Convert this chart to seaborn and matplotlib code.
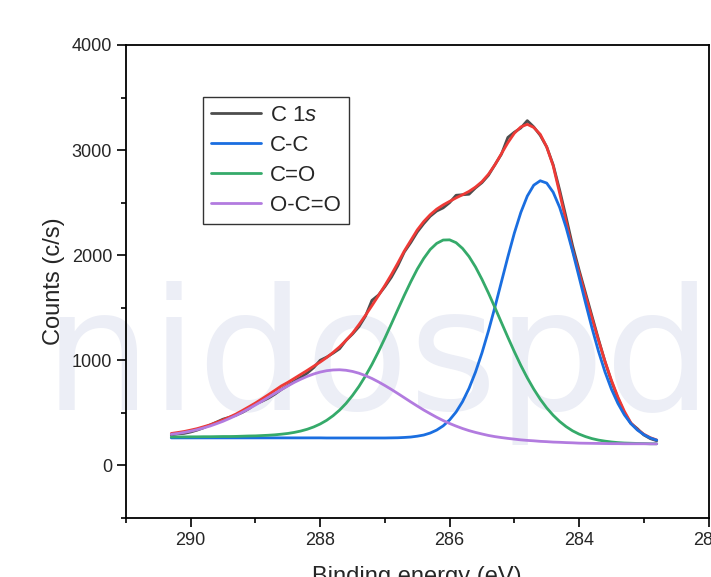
import numpy as np
import pandas as pd
import matplotlib
matplotlib.use("Agg")
import matplotlib.pyplot as plt
from matplotlib.ticker import MultipleLocator
import seaborn as sns

# binding energy grid (eV) and counts
energy = [290.3, 290.2, 290.1, 290.0, 289.9, 289.8, 289.7, 289.6, 289.5, 289.4,
          289.3, 289.2, 289.1, 289.0, 288.9, 288.8, 288.7, 288.6, 288.5, 288.4,
          288.3, 288.2, 288.1, 288.0, 287.9, 287.8, 287.7, 287.6, 287.5, 287.4,
          287.3, 287.2, 287.1, 287.0, 286.9, 286.8, 286.7, 286.6, 286.5, 286.4,
          286.3, 286.2, 286.1, 286.0, 285.9, 285.8, 285.7, 285.6, 285.5, 285.4,
          285.3, 285.2, 285.1, 285.0, 284.9, 284.8, 284.7, 284.6, 284.5, 284.4,
          284.3, 284.2, 284.1, 284.0, 283.9, 283.8, 283.7, 283.6, 283.5, 283.4,
          283.3, 283.2, 283.1, 283.0, 282.9, 282.8]

c1s = [290, 300, 305, 318, 336, 358, 385, 412, 440, 458,
       478, 505, 540, 585, 610, 640, 678, 722, 760, 800,
       838, 878, 930, 1000, 1030, 1068, 1110, 1190, 1250, 1320,
       1420, 1570, 1620, 1700, 1790, 1900, 2030, 2120, 2220, 2300,
       2370, 2420, 2450, 2500, 2570, 2575, 2580, 2640, 2690, 2760,
       2860, 2960, 3120, 3170, 3210, 3280, 3220, 3140, 3030, 2860,
       2620, 2360, 2090, 1860, 1640, 1420, 1200, 990, 800, 640,
       500, 400, 350, 290, 255, 235]

fit = [304, 313, 323, 336, 350, 368, 386, 409, 433, 460,
       489, 523, 558, 594, 633, 673, 714, 756, 790, 828,
       866, 904, 944, 983, 1026, 1075, 1128, 1190, 1258, 1340,
       1428, 1520, 1615, 1712, 1815, 1925, 2040, 2140, 2240, 2320,
       2385, 2438, 2478, 2512, 2545, 2575, 2607, 2648, 2700, 2770,
       2860, 2965, 3070, 3160, 3220, 3245, 3215, 3150, 3030, 2850,
       2590, 2320, 2050, 1835, 1615, 1400, 1190, 990, 810, 650,
       515, 405, 342, 297, 264, 242]

cc = [262, 262, 262, 262, 262, 262, 262, 262, 262, 262,
      262, 262, 262, 262, 262, 262, 262, 262, 262, 262,
      262, 262, 262, 262, 261, 261, 261, 261, 261, 261,
      261, 261, 261, 261, 262, 263, 266, 270, 278, 289,
      308, 336, 376, 433, 508, 607, 733, 888, 1071, 1279,
      1506, 1745, 1984, 2210, 2406, 2562, 2666, 2708, 2686, 2599,
      2455, 2263, 2037, 1793, 1546, 1307, 1086, 891, 725, 590,
      481, 398, 337, 293, 261, 240]

co = [270, 271, 271, 272, 272, 273, 273, 274, 275, 275,
      276, 278, 280, 281, 284, 287, 291, 297, 304, 314,
      327, 344, 366, 394, 429, 473, 526, 590, 666, 752,
      851, 961, 1082, 1211, 1346, 1483, 1618, 1747, 1867, 1969,
      2054, 2112, 2144, 2146, 2119, 2064, 1987, 1888, 1770, 1640,
      1502, 1360, 1219, 1082, 952, 833, 726, 630, 547, 477,
      418, 369, 329, 298, 274, 255, 241, 231, 223, 217,
      213, 211, 209, 208, 206, 206]

oco = [296, 304, 314, 326, 340, 357, 375, 397, 420, 447,
       475, 507, 540, 575, 611, 648, 685, 721, 756, 790,
       820, 847, 870, 888, 901, 908, 910, 905, 894, 877,
       854, 827, 795, 760, 723, 684, 644, 604, 565, 527,
       492, 458, 427, 399, 374, 351, 331, 314, 299, 285,
       274, 265, 257, 250, 243, 238, 234, 229, 226, 222,
       220, 217, 215, 212, 211, 210, 209, 208, 207, 207,
       206, 206, 206, 206, 205, 205]

df = pd.DataFrame({"energy": energy, "c1s": c1s, "fit": fit,
                   "cc": cc, "co": co, "oco": oco})

sns.set_style("ticks")
plt.rcParams["font.family"] = ["Liberation Sans", "DejaVu Sans"]
plt.rcParams["mathtext.fontset"] = "custom"
plt.rcParams["mathtext.rm"] = "Liberation Sans"
plt.rcParams["mathtext.it"] = "Liberation Sans:italic"

fig = plt.figure(figsize=(7.11, 5.77), dpi=100)
ax = fig.add_axes([0.1772, 0.1023, 0.8193, 0.8198])
ax.set_facecolor("none")

# faint watermark behind the plot
fig.text(44 / 711, 1 - 410 / 577, "nidospd", fontsize=122, family="DejaVu Sans",
         color="#eceef6", zorder=-10, va="baseline")

sns.lineplot(data=df, x="energy", y="c1s", ax=ax, color="#4d4d4d", lw=2, label="C 1$\\mathit{s}$")
sns.lineplot(data=df, x="energy", y="fit", ax=ax, color="#ee3a36", lw=2)
sns.lineplot(data=df, x="energy", y="cc", ax=ax, color="#1a6ee0", lw=2, label="C-C")
sns.lineplot(data=df, x="energy", y="co", ax=ax, color="#35aa6a", lw=2, label="C=O")
sns.lineplot(data=df, x="energy", y="oco", ax=ax, color="#b27bdf", lw=2, label="O-C=O")

ax.set_xlim(291, 282)
ax.set_ylim(-500, 4000)
ax.xaxis.set_major_locator(MultipleLocator(2))
ax.xaxis.set_minor_locator(MultipleLocator(1))
ax.yaxis.set_major_locator(MultipleLocator(1000))
ax.yaxis.set_minor_locator(MultipleLocator(500))
ax.tick_params(which="major", direction="out", length=6.5, width=1.2, labelsize=13,
               top=False, right=False, color="black")
ax.tick_params(which="minor", direction="out", length=3.5, width=1.2,
               top=False, right=False, color="black")
for sp in ax.spines.values():
    sp.set_visible(True)
    sp.set_color("black")
    sp.set_linewidth(1.3)

ax.set_xlabel("Binding energy (eV)", fontsize=17, labelpad=12)
ax.set_ylabel("Counts (c/s)", fontsize=17, labelpad=5)

leg = ax.legend(loc="upper left", bbox_to_anchor=(0.132, 0.890), borderaxespad=0,
                fontsize=16, frameon=True, fancybox=False, framealpha=1,
                edgecolor="#333333", borderpad=0.36, labelspacing=0.40,
                handlelength=2.25, handletextpad=0.4)
leg.get_frame().set_linewidth(1.0)

fig.savefig("out.png", dpi=100)
